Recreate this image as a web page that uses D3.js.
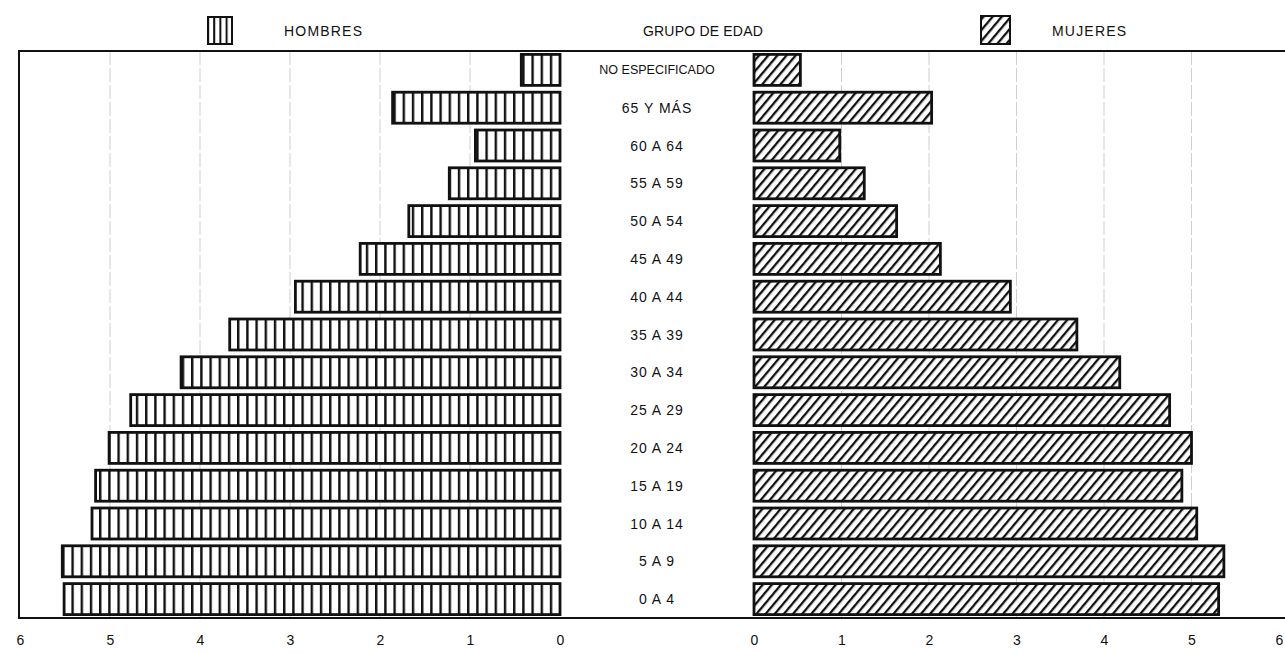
<!DOCTYPE html>
<html>
<head>
<meta charset="utf-8">
<script src="https://cdn.jsdelivr.net/npm/d3@7"></script>
<style>
  body { margin: 0; background: #fff; }
  text { font-family: 'Liberation Sans', Arial, sans-serif; fill: #111; }
</style>
</head>
<body>
<script>
const width = 1285
const height = 654

const groups = ['NO ESPECIFICADO', '65 Y MÁS', '60 A 64', '55 A 59', '50 A 54', '45 A 49', '40 A 44',
	'35 A 39', '30 A 34', '25 A 29', '20 A 24', '15 A 19', '10 A 14', '5 A 9', '0 A 4']
const hombres = [0.43, 1.86, 0.94, 1.23, 1.68, 2.22, 2.94, 3.67, 4.21, 4.77, 5.01, 5.16, 5.2, 5.53, 5.51]
const mujeres = [0.53, 2.03, 0.98, 1.26, 1.63, 2.13, 2.93, 3.69, 4.18, 4.75, 5.0, 4.89, 5.06, 5.37, 5.31]
const ticks = [0, 1, 2, 3, 4, 5, 6]

const plotTop = 51
const plotBottom = 618

const svg = d3.select('body')
	.append('svg')
	.attr('width', width)
	.attr('height', height)

const xL = d3.scaleLinear().domain([0, 6]).range([560, 20])
const xR = d3.scaleLinear().domain([0, 6]).range([754, 1279])
const y = d3.scaleBand()
	.domain(groups)
	.range([plotTop, plotBottom])
	.paddingInner(0.18)
	.paddingOuter(0.09)

// patterns
const defs = svg.append('defs')

const vert = defs.append('pattern')
	.attr('id', 'vert')
	.attr('patternUnits', 'userSpaceOnUse')
	.attr('x', 560 - 1)
	.attr('width', 9.2)
	.attr('height', 40)
vert.append('rect').attr('width', 9.2).attr('height', 40).attr('fill', '#fff')
vert.append('rect').attr('x', 0).attr('width', 2.4).attr('height', 40).attr('fill', '#111')

const vertSmall = defs.append('pattern')
	.attr('id', 'vertSmall')
	.attr('patternUnits', 'userSpaceOnUse')
	.attr('x', 207)
	.attr('width', 6.2)
	.attr('height', 40)
vertSmall.append('rect').attr('width', 6.2).attr('height', 40).attr('fill', '#fff')
vertSmall.append('rect').attr('x', 0).attr('width', 2).attr('height', 40).attr('fill', '#111')

const hatch = defs.append('pattern')
	.attr('id', 'hatch')
	.attr('patternUnits', 'userSpaceOnUse')
	.attr('width', 7)
	.attr('height', 20)
	.attr('patternTransform', 'rotate(40)')
hatch.append('rect').attr('width', 7).attr('height', 20).attr('fill', '#fff')
hatch.append('rect').attr('x', 0).attr('width', 2.3).attr('height', 20).attr('fill', '#111')

// gridlines
const grid = svg.append('g')
	.attr('stroke', '#cfcfcf')
	.attr('stroke-width', 1)
	.attr('stroke-dasharray', '14,3')

grid.selectAll('.gl')
	.data(ticks.slice(1, 6))
	.enter()
	.append('line')
	.attr('x1', d => xL(d)).attr('x2', d => xL(d))
	.attr('y1', plotTop).attr('y2', plotBottom)

grid.selectAll('.gr')
	.data(ticks.slice(1, 6))
	.enter()
	.append('line')
	.attr('x1', d => xR(d)).attr('x2', d => xR(d))
	.attr('y1', plotTop).attr('y2', plotBottom)

// bars
svg.append('g')
	.selectAll('rect')
	.data(groups)
	.enter()
	.append('rect')
	.attr('x', (d, i) => xL(hombres[i]))
	.attr('y', d => y(d))
	.attr('width', (d, i) => xL(0) - xL(hombres[i]))
	.attr('height', y.bandwidth())
	.attr('fill', 'url(#vert)')
	.attr('stroke', '#111')
	.attr('stroke-width', 2.8)

svg.append('g')
	.selectAll('rect')
	.data(groups)
	.enter()
	.append('rect')
	.attr('x', xR(0))
	.attr('y', d => y(d))
	.attr('width', (d, i) => xR(mujeres[i]) - xR(0))
	.attr('height', y.bandwidth())
	.attr('fill', 'url(#hatch)')
	.attr('stroke', '#111')
	.attr('stroke-width', 2.8)

// category labels
svg.append('g')
	.selectAll('text')
	.data(groups)
	.enter()
	.append('text')
	.attr('x', 657)
	.attr('y', d => y(d) + y.bandwidth() / 2)
	.attr('dy', '0.36em')
	.attr('text-anchor', 'middle')
	.style('font-size', d => d.length > 10 ? '12.5px' : '14px')
	.style('letter-spacing', d => d.length > 10 ? '0px' : '1px')
	.text(d => d)

// frame
const frame = svg.append('g').attr('stroke', '#111').attr('stroke-width', 2)
frame.append('line').attr('x1', 18).attr('x2', width).attr('y1', plotTop).attr('y2', plotTop)
frame.append('line').attr('x1', 18).attr('x2', width).attr('y1', plotBottom).attr('y2', plotBottom)
frame.append('line').attr('x1', 19).attr('x2', 19).attr('y1', plotTop).attr('y2', plotBottom)

// axes
svg.append('g')
	.attr('transform', `translate(0,${plotBottom})`)
	.call(d3.axisBottom(xL).tickValues(ticks).tickSize(0).tickPadding(17).tickFormat(d3.format('d')))
svg.append('g')
	.attr('transform', `translate(0,${plotBottom})`)
	.call(d3.axisBottom(xR).tickValues(ticks).tickSize(0).tickPadding(17).tickFormat(d3.format('d')))
svg.selectAll('.domain').remove()
svg.selectAll('.tick text')
	.style('font-family', "'Liberation Sans', Arial, sans-serif")
	.style('font-size', '14px')
	.attr('fill', '#333')

// legend
svg.append('rect')
	.attr('x', 208).attr('y', 17).attr('width', 24).attr('height', 27)
	.attr('fill', 'url(#vertSmall)').attr('stroke', '#111').attr('stroke-width', 2)
svg.append('text')
	.attr('x', 284).attr('y', 36)
	.style('font-size', '14px').style('letter-spacing', '1.2px')
	.text('HOMBRES')

svg.append('text')
	.attr('x', 703).attr('y', 36)
	.attr('text-anchor', 'middle')
	.style('font-size', '14px').style('letter-spacing', '0.2px')
	.text('GRUPO DE EDAD')

svg.append('rect')
	.attr('x', 981).attr('y', 16).attr('width', 29).attr('height', 28)
	.attr('fill', 'url(#hatch)').attr('stroke', '#111').attr('stroke-width', 2)
svg.append('text')
	.attr('x', 1052).attr('y', 36)
	.style('font-size', '14px').style('letter-spacing', '1.2px')
	.text('MUJERES')
</script>
</body>
</html>
